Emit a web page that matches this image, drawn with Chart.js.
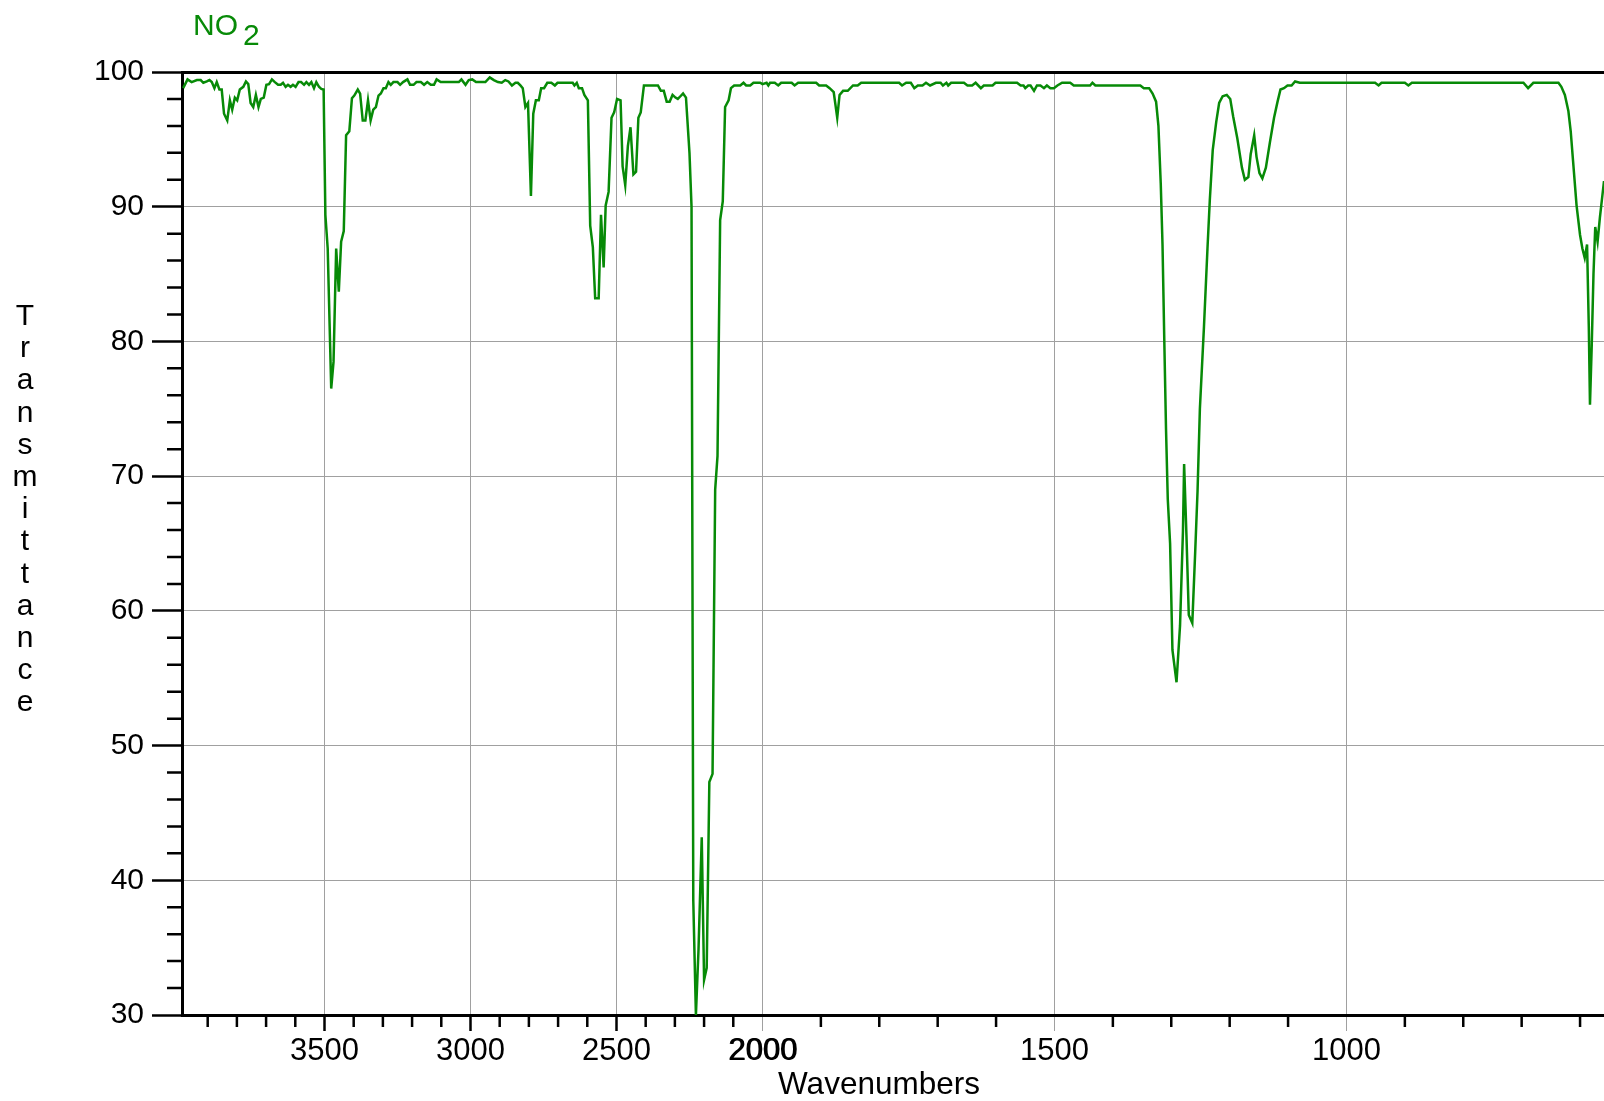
<!DOCTYPE html>
<html>
<head>
<meta charset="utf-8">
<title>NO2 spectrum</title>
<script src="https://cdn.jsdelivr.net/npm/chart.js@4.4.1/dist/chart.umd.min.js"></script>
<style>
  html, body { margin: 0; padding: 0; background: #fff; }
  #wrap { width: 1604px; height: 1101px; position: relative; overflow: hidden; }
</style>
</head>
<body>
<div id="wrap"><canvas id="spectrum" width="1604" height="1101"></canvas></div>
<script>
// wavenumbers (cm-1) from left to right
const wavenumbers = [
  3984, 3969, 3955, 3937, 3924, 3915, 3903, 3894, 3886, 3877, 3869, 3860, 3852, 3844, 3833, 3824,
  3816, 3807, 3799, 3790, 3778, 3769, 3761, 3753, 3744, 3735, 3726, 3718, 3708, 3699, 3690, 3680,
  3670, 3659, 3650, 3642, 3633, 3625, 3616, 3608, 3599, 3589, 3580, 3570, 3562, 3553, 3545, 3536,
  3528, 3519, 3511, 3503, 3497, 3489, 3477, 3469, 3460, 3451, 3443, 3434, 3426, 3415, 3406, 3398,
  3386, 3378, 3369, 3360, 3351, 3342, 3333, 3324, 3315, 3307, 3298, 3290, 3281, 3273, 3264, 3250,
  3241, 3231, 3216, 3207, 3195, 3185, 3170, 3159, 3148, 3136, 3125, 3116, 3102, 3085, 3063, 3040,
  3031, 3017, 3006, 2994, 2981, 2966, 2949, 2934, 2920, 2906, 2893, 2881, 2870, 2858, 2846, 2838,
  2829, 2821, 2812, 2803, 2793, 2785, 2776, 2766, 2758, 2748, 2737, 2723, 2711, 2702, 2685, 2667,
  2650, 2644, 2636, 2629, 2618, 2610, 2598, 2590, 2581, 2573, 2561, 2553, 2544, 2537, 2527, 2517,
  2508, 2498, 2486, 2479, 2470, 2461, 2452, 2442, 2433, 2425, 2417, 2406, 2390, 2373, 2358, 2348,
  2338, 2328, 2318, 2308, 2298, 2290, 2281, 2272, 2262, 2250, 2243, 2237, 2228, 2219, 2208, 2200,
  2191, 2182, 2171, 2162, 2154, 2145, 2136, 2128, 2116, 2108, 2097, 2076, 2065, 2056, 2042, 2031,
  2008, 2000, 1993, 1990, 1987, 1979, 1973, 1968, 1950, 1945, 1939, 1908, 1903, 1891, 1885, 1878,
  1872, 1868, 1862, 1854, 1845, 1837, 1831, 1766, 1761, 1754, 1746, 1740, 1734, 1726, 1720, 1713,
  1703, 1695, 1691, 1685, 1682, 1677, 1655, 1649, 1641, 1635, 1626, 1621, 1606, 1601, 1564, 1558,
  1553, 1550, 1545, 1541, 1535, 1530, 1524, 1518, 1513, 1507, 1501, 1495, 1487, 1473, 1467, 1439,
  1435, 1430, 1353, 1347, 1338, 1332, 1326, 1322, 1318, 1315, 1312, 1309, 1306, 1302, 1298, 1291,
  1285, 1280, 1278, 1274, 1270, 1264, 1259, 1255, 1251, 1244, 1238, 1234, 1229, 1223, 1218, 1212,
  1205, 1199, 1194, 1187, 1179, 1174, 1168, 1164, 1158, 1154, 1149, 1144, 1138, 1131, 1124, 1118,
  1113, 1107, 1101, 1094, 1088, 1080, 951, 945, 940, 900, 894, 888, 697, 689, 680, 637,
  632, 626, 620, 616, 612, 606, 600, 596, 592, 588, 585, 583, 580, 577, 574, 570,
  566, 559
];
// transmittance (%), same order
const transmittance = [
  98.8, 99.45, 99.25, 99.4, 99.4, 99.2, 99.3, 99.4, 99.25, 98.8, 99.25, 98.7, 98.7, 96.9, 96.4, 97.9,
  97.2, 98.1, 97.9, 98.7, 98.9, 99.3, 99.1, 97.7, 97.4, 98.3, 97.4, 98.0, 98.1, 99.05, 99.1, 99.45,
  99.25, 99.05, 99.05, 99.2, 98.9, 99.05, 98.9, 99.05, 98.9, 99.25, 99.25, 99.05, 99.25, 99.05, 99.25, 98.8,
  99.25, 98.9, 98.75, 98.7, 89.4, 86.9, 76.5, 78.5, 86.9, 83.7, 87.4, 88.2, 95.3, 95.6, 98.05, 98.25,
  98.7, 98.4, 96.4, 96.4, 97.9, 96.4, 97.2, 97.4, 98.25, 98.4, 98.8, 98.8, 99.25, 99.05, 99.25, 99.25,
  99.05, 99.25, 99.45, 99.05, 99.05, 99.25, 99.25, 99.05, 99.25, 99.05, 99.05, 99.45, 99.25, 99.25, 99.25, 99.25,
  99.45, 99.05, 99.4, 99.45, 99.25, 99.25, 99.25, 99.6, 99.4, 99.25, 99.2, 99.4, 99.3, 99.0, 99.2, 99.2,
  99.0, 98.8, 97.4, 97.7, 90.8, 96.9, 97.9, 97.9, 98.8, 98.8, 99.2, 99.2, 99.0, 99.2, 99.2, 99.2,
  99.2, 99.0, 99.2, 98.8, 98.8, 98.3, 97.9, 88.6, 87.0, 83.2, 83.2, 89.4, 85.5, 90.1, 91.1, 96.6,
  97.0, 98.0, 97.9, 93.0, 91.6, 94.5, 95.9, 92.4, 92.6, 96.6, 97.0, 99.0, 99.0, 99.0, 99.0, 98.6,
  98.6, 97.8, 97.8, 98.3, 98.1, 98.0, 98.2, 98.4, 98.1, 94.0, 90.0, 38.5, 30.0, 34.9, 43.2, 32.6,
  33.5, 47.3, 47.9, 69.0, 71.5, 89.0, 90.4, 97.4, 97.9, 98.8, 99.0, 99.0, 99.2, 99.0, 99.0, 99.2,
  99.2, 99.1, 99.2, 99.0, 99.2, 99.2, 99.0, 99.2, 99.2, 99.0, 99.2, 99.2, 99.0, 99.0, 98.8, 98.5,
  96.6, 98.3, 98.6, 98.6, 99.0, 99.0, 99.2, 99.2, 99.0, 99.2, 99.2, 98.8, 99.0, 99.0, 99.2, 99.0,
  99.2, 99.2, 99.0, 99.2, 99.0, 99.2, 99.2, 99.0, 99.0, 99.2, 98.8, 99.0, 99.0, 99.2, 99.2, 99.0,
  99.0, 98.8, 99.0, 99.0, 98.6, 99.0, 99.0, 98.8, 99.0, 98.8, 98.8, 99.0, 99.2, 99.2, 99.0, 99.0,
  99.2, 99.0, 99.0, 98.8, 98.8, 98.4, 97.8, 96.0, 91.7, 87.2, 80.2, 73.5, 68.3, 65.0, 57.1, 54.7,
  58.9, 65.9, 70.9, 65.6, 59.7, 59.1, 64.4, 68.9, 75.0, 81.1, 86.9, 90.5, 94.2, 96.3, 97.7, 98.2,
  98.3, 98.0, 96.7, 95.1, 92.9, 92.0, 92.2, 93.9, 95.3, 93.7, 92.5, 92.1, 92.9, 94.8, 96.6, 97.8,
  98.7, 98.8, 99.0, 99.0, 99.3, 99.2, 99.2, 99.0, 99.2, 99.2, 99.0, 99.2, 99.2, 98.8, 99.2, 99.2,
  98.9, 98.3, 97.1, 95.6, 93.4, 90.1, 87.9, 86.9, 86.2, 87.2, 81.0, 75.3, 79.7, 85.0, 88.5, 87.4,
  89.2, 91.9
];

const xTickValues = [3500, 3000, 2500, 2000, 1500, 1000];
const xMinorValues = [3900, 3800, 3700, 3600, 3400, 3300, 3200, 3100, 2900, 2800, 2700, 2600,
  2400, 2300, 2200, 2100, 1900, 1800, 1700, 1600, 1400, 1300, 1200, 1100, 900, 800, 700, 600];
const yTickValues = [30, 40, 50, 60, 70, 80, 90, 100];
const yMinorValues = [32, 34, 36, 38, 42, 44, 46, 48, 52, 54, 56, 58, 62, 64, 66, 68,
  72, 74, 76, 78, 82, 84, 86, 88, 92, 94, 96, 98];
const xRange = [559, 3988];
const yRange = [30, 100];

const titleMain = 'NO';
const titleSub = '2';
const xTitle = 'Wavenumbers';
const yTitle = 'Transmittance';

const FONT = "'Liberation Sans', Arial, Helvetica, sans-serif";
const GREEN = '#078a07';
const GRID = '#a0a0a0';

// above 2000 cm-1 the axis is compressed by half
const BREAK = 2000;
function toAxis(w) { return w > BREAK ? BREAK + (w - BREAK) / 2 : w; }
function fromAxis(v) { return v > BREAK ? Math.round(BREAK + (v - BREAK) * 2) : Math.round(v); }

const points = wavenumbers.map((w, i) => ({ x: toAxis(w), y: transmittance[i] }));

const extras = {
  id: 'extras',
  afterDraw(chart) {
    const { ctx, scales: { x, y }, chartArea } = chart;
    ctx.save();

    // minor tick marks
    ctx.strokeStyle = '#000';
    ctx.lineWidth = 2.5;
    ctx.beginPath();
    yMinorValues.forEach(v => {
      const py = y.getPixelForValue(v);
      ctx.moveTo(chartArea.left - 15, py);
      ctx.lineTo(chartArea.left, py);
    });
    xMinorValues.forEach(w => {
      const px = x.getPixelForValue(toAxis(w));
      ctx.moveTo(px, chartArea.bottom);
      ctx.lineTo(px, chartArea.bottom + 12);
    });
    ctx.stroke();

    // the 2000 label is printed twice in the original (both halves of the axis meet there)
    x.getLabelItems(chartArea).forEach(item => {
      if (item.label !== String(BREAK)) return;
      const o = item.options;
      ctx.save();
      ctx.translate(o.translation[0] + 1, o.translation[1]);
      ctx.font = item.font.string;
      ctx.fillStyle = '#000';
      ctx.textAlign = o.textAlign;
      ctx.textBaseline = o.textBaseline;
      ctx.fillText(item.label, 0, item.textOffset);
      ctx.restore();
    });

    // title with subscript
    ctx.fillStyle = GREEN;
    ctx.font = '30px ' + FONT;
    ctx.textAlign = 'left';
    ctx.textBaseline = 'alphabetic';
    ctx.fillText(titleMain, 193, 35);
    ctx.fillText(titleSub, 243, 45);

    // stacked y title
    ctx.fillStyle = '#000';
    ctx.textAlign = 'center';
    yTitle.split('').forEach((ch, i) => ctx.fillText(ch, 25, 325 + i * 32.2));

    // x title
    ctx.font = '31.5px ' + FONT;
    ctx.fillText(xTitle, 879, 1094);
    ctx.restore();
  }
};

new Chart(document.getElementById('spectrum'), {
  type: 'line',
  data: {
    datasets: [{
      data: points,
      borderColor: GREEN,
      borderWidth: 2.5,
      pointRadius: 0,
      tension: 0,
      fill: false
    }]
  },
  options: {
    responsive: false,
    animation: false,
    devicePixelRatio: 1,
    layout: { padding: { top: 72, left: 0, right: 0, bottom: 0 } },
    plugins: { legend: { display: false }, tooltip: { enabled: false } },
    scales: {
      x: {
        type: 'linear',
        reverse: true,
        min: toAxis(xRange[0]),
        max: toAxis(xRange[1]),
        afterBuildTicks: s => { s.ticks = xTickValues.map(v => ({ value: toAxis(v) })); },
        afterFit: s => { s.height = 86; },
        border: { color: '#000', width: 3 },
        grid: {
          color: GRID,
          lineWidth: 1,
          tickLength: 16,
          tickColor: c => c.tick && c.tick.value > BREAK ? '#000' : GRID,
          tickWidth: c => c.tick && c.tick.value > BREAK ? 2.5 : 1
        },
        ticks: {
          color: '#000',
          font: { family: FONT, size: 31 },
          padding: 2,
          maxRotation: 0,
          autoSkip: false,
          callback: v => String(fromAxis(v))
        }
      },
      y: {
        min: yRange[0],
        max: yRange[1],
        afterBuildTicks: s => { s.ticks = yTickValues.map(v => ({ value: v })); },
        afterFit: s => { s.width = 182; },
        border: { color: '#000', width: 3 },
        grid: {
          color: c => c.tick && c.tick.value === 100 ? '#000' : GRID,
          lineWidth: c => c.tick && c.tick.value === 100 ? 3 : 1,
          tickLength: 30,
          tickColor: '#000',
          tickWidth: 2.5
        },
        ticks: {
          color: '#000',
          font: { family: FONT, size: 30 },
          padding: 8
        }
      }
    }
  },
  plugins: [extras]
});
</script>
</body>
</html>
